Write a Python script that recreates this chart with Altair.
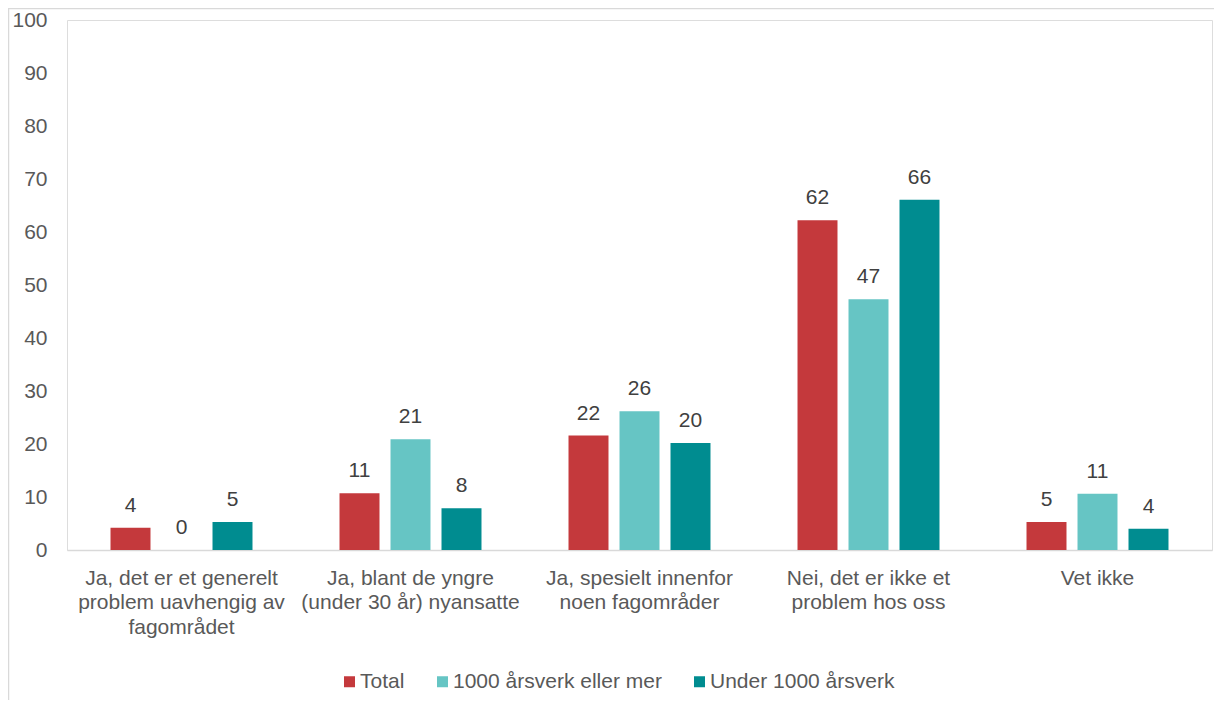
import altair as alt
import pandas as pd

categories = [
    "Ja, det er et generelt\nproblem uavhengig av\nfagområdet",
    "Ja, blant de yngre\n(under 30 år) nyansatte",
    "Ja, spesielt innenfor\nnoen fagområder",
    "Nei, det er ikke et\nproblem hos oss",
    "Vet ikke",
]
series = ["Total", "1000 årsverk eller mer", "Under 1000 årsverk"]
total = [4.2, 10.7, 21.6, 62.2, 5.3]
large = [0.0, 20.9, 26.2, 47.3, 10.6]
small = [5.3, 7.9, 20.2, 66.1, 4.0]
colors = ["#C4393C", "#66C5C4", "#008C90"]
y_ticks = list(range(0, 101, 10))

rows = []
for name, vals in zip(series, [total, large, small]):
    for c, v in zip(categories, vals):
        rows.append({"kategori": c, "serie": name, "verdi": v})
df = pd.DataFrame(rows)

W, H = 1145, 530
FONT = "Liberation Sans"

base = alt.Chart(df).encode(
    x=alt.X("kategori:N", sort=categories,
            scale=alt.Scale(paddingInner=0.38, paddingOuter=0.19),
            axis=alt.Axis(title=None, labelAngle=0, ticks=False, domainColor="#D9D9D9",
                          domainWidth=1.5, labelFontSize=21, labelColor="#595959",
                          labelPadding=17, labelLineHeight=24.5, labelFont=FONT,
                          labelLimit=0,
                          labelExpr="split(datum.label, '\\n')")),
    xOffset=alt.XOffset("serie:N", sort=series,
                        scale=alt.Scale(paddingInner=0.216, paddingOuter=0)),
    y=alt.Y("verdi:Q", scale=alt.Scale(domain=[0, 100], nice=False),
            axis=alt.Axis(title=None, values=y_ticks, grid=False, domain=False, ticks=False,
                          labelFontSize=21, labelColor="#595959", labelPadding=20,
                          labelFont=FONT)),
)

bars = base.mark_bar().encode(
    color=alt.Color("serie:N", sort=series,
                    scale=alt.Scale(domain=series, range=colors),
                    legend=alt.Legend(title=None, orient="none", direction="horizontal",
                                      legendX=272, legendY=651,
                                      symbolType="square",
                                      symbolSize=121, symbolStrokeWidth=0,
                                      labelFontSize=21, labelColor="#595959", labelFont=FONT,
                                      labelLimit=0,
                                      columnPadding=27, labelOffset=0)),
)

labels = base.mark_text(baseline="alphabetic", dy=-16, fontSize=21, color="#404040",
                        font=FONT).encode(
    text=alt.Text("verdi:Q", format=".0f"),
)

frame_df = pd.DataFrame({"a": [0]})
left_line = alt.Chart(frame_df).mark_rule(color="#D9D9D9", strokeWidth=1.5).encode(
    x=alt.value(-58.5), y=alt.value(-12), y2=alt.value(H + 150))
top_line = alt.Chart(frame_df).mark_rule(color="#D9D9D9", strokeWidth=1.5).encode(
    y=alt.value(-11.5), x=alt.value(-59), x2=alt.value(W + 2))

chart = alt.layer(bars, labels, left_line, top_line).properties(
    width=W, height=H,
    autosize=alt.AutoSizeParams(type="none"),
    padding={"left": 59, "top": 12, "right": 2, "bottom": 150},
).configure_view(stroke=None).configure(font=FONT)

chart.save("out.html", embed_options={"renderer": "svg", "actions": False})
